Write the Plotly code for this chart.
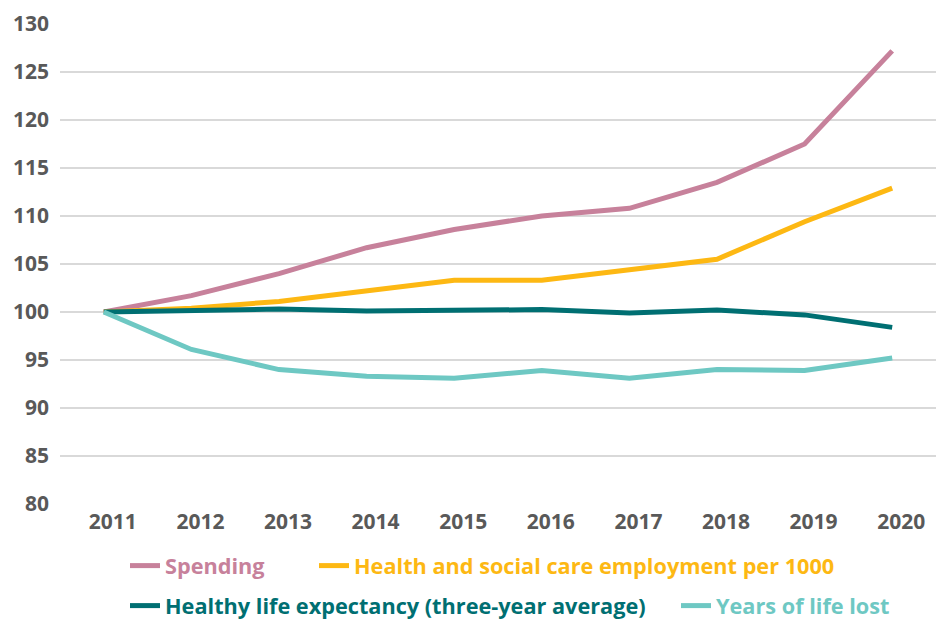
import plotly.graph_objects as go

# Index values, 2011 = 100
years = [2011, 2012, 2013, 2014, 2015, 2016, 2017, 2018, 2019, 2020]
spending = [100.0, 101.7, 104.0, 106.7, 108.6, 110.0, 110.8, 113.5, 117.5, 127.2]
employment = [100.0, 100.4, 101.1, 102.2, 103.3, 103.3, 104.4, 105.5, 109.4, 112.9]
healthy_le = [100.0, 100.1, 100.3, 100.1, 100.15, 100.25, 99.9, 100.2, 99.7, 98.4]
yll = [100.0, 96.1, 94.0, 93.3, 93.1, 93.9, 93.1, 94.0, 93.9, 95.2]

y_ticks = [80, 85, 90, 95, 100, 105, 110, 115, 120, 125, 130]

W, H = 936, 619

# name, values, colour, legend id, legend left (px), legend row centre (px)
series = [
    ("Spending", spending, "#C7819B", "legend", 125, 566),
    ("Health and social care employment per 1000", employment, "#FDB813", "legend2", 314, 566),
    ("Healthy life expectancy (three-year average)", healthy_le, "#006F72", "legend3", 125, 606),
    ("Years of life lost", yll, "#6EC8C3", "legend4", 676, 606),
]

fig = go.Figure()
for name, vals, color, leg, _, _ in series:
    fig.add_trace(go.Scatter(
        x=years, y=vals, name=name, mode="lines",
        line=dict(color=color, width=5),
        legend=leg,
    ))

tick_font = dict(family="Open Sans", size=21, color="#595959", weight="bold")

legends = {}
for name, vals, color, leg, lx, ly in series:
    legends[leg] = dict(
        orientation="h", xref="container", yref="container",
        x=lx / W, y=1 - ly / H, xanchor="left", yanchor="middle",
        font=dict(family="Open Sans", size=21.7, weight="bold", color=color),
        bgcolor="rgba(0,0,0,0)", itemwidth=30,
    )

fig.update_layout(
    width=W, height=H,
    margin=dict(l=60, r=0, t=24, b=115),
    plot_bgcolor="white", paper_bgcolor="white",
    xaxis=dict(
        range=[2010.5, 2020.5], tickmode="array", tickvals=years,
        ticktext=[str(y) for y in years], showgrid=False, zeroline=False,
        showline=False, tickfont=tick_font, ticks="", ticklabelshift=9,
        ticklabelstandoff=3,
    ),
    yaxis=dict(
        range=[80, 130], tickmode="array", tickvals=y_ticks,
        showgrid=True, gridcolor="#D9D9D9", gridwidth=1.5, zeroline=False,
        showline=False, tickfont=tick_font, ticks="", ticklabelstandoff=10,
    ),
    showlegend=True,
    **legends,
)

fig.write_html("out.html")
